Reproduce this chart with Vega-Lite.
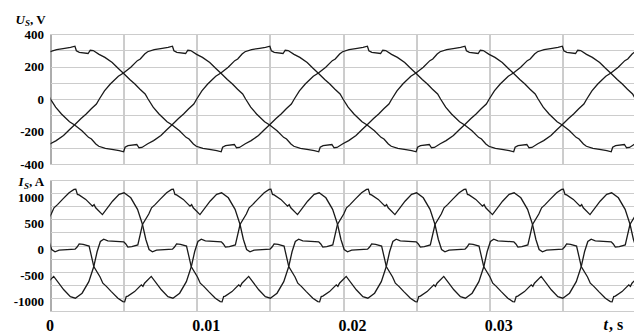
{
"$schema":"https://vega.github.io/schema/vega-lite/v6.json",
"padding":{"left":12.5,"top":12,"right":0,"bottom":0},
"bounds":"flush",
"spacing":16,
"config":{"view":{"stroke":"#808080","strokeWidth":1},"font":"Liberation Serif",
"axis":{"labelFont":"Liberation Serif","labelFontWeight":"bold","labelColor":"#000","labelFontSize":13,"titleFont":"Liberation Serif","titleFontWeight":"bold","titleColor":"#000","titleFontSize":13,"ticks":false,"domain":false,"gridWidth":1,"titleAngle":0,"titleAlign":"left","titleBaseline":"alphabetic","titlePadding":0,"labelFlush":false}},
"datasets":{
"u":[
{"t":-0.53,"v":246,"p":"a"},{"t":-0.23,"v":277,"p":"a"},{"t":-0.03,"v":291,"p":"a"},{"t":0.42,"v":304,"p":"a"},{"t":0.97,"v":312,"p":"a"},{"t":1.37,"v":318,"p":"a"},{"t":1.67,"v":325,"p":"a"},{"t":1.77,"v":297,"p":"a"},{"t":1.97,"v":287,"p":"a"},{"t":2.57,"v":280,"p":"a"},{"t":2.72,"v":300,"p":"a"},{"t":2.92,"v":298,"p":"a"},{"t":3.32,"v":275,"p":"a"},{"t":3.72,"v":256,"p":"a"},{"t":4.22,"v":225,"p":"a"},{"t":4.62,"v":189,"p":"a"},{"t":5.02,"v":155,"p":"a"},{"t":5.42,"v":120,"p":"a"},{"t":5.77,"v":92,"p":"a"},{"t":6.12,"v":60,"p":"a"},{"t":6.47,"v":31,"p":"a"},
{"t":6.67,"v":0,"p":"a"},{"t":7.02,"v":-50,"p":"a"},{"t":7.42,"v":-92,"p":"a"},{"t":7.97,"v":-140,"p":"a"},{"t":8.32,"v":-160,"p":"a"},{"t":8.82,"v":-195,"p":"a"},{"t":9.27,"v":-236,"p":"a"},{"t":9.47,"v":-246,"p":"a"},{"t":9.77,"v":-277,"p":"a"},{"t":9.97,"v":-291,"p":"a"},{"t":10.42,"v":-304,"p":"a"},{"t":10.97,"v":-312,"p":"a"},{"t":11.37,"v":-318,"p":"a"},{"t":11.67,"v":-325,"p":"a"},{"t":11.77,"v":-297,"p":"a"},{"t":11.97,"v":-287,"p":"a"},{"t":12.57,"v":-280,"p":"a"},{"t":12.72,"v":-300,"p":"a"},{"t":12.92,"v":-298,"p":"a"},{"t":13.32,"v":-275,"p":"a"},{"t":13.72,"v":-256,"p":"a"},{"t":14.22,"v":-225,"p":"a"},{"t":14.62,"v":-189,"p":"a"},{"t":15.02,"v":-155,"p":"a"},{"t":15.42,"v":-120,"p":"a"},{"t":15.77,"v":-92,"p":"a"},{"t":16.12,"v":-60,"p":"a"},{"t":16.47,"v":-31,"p":"a"},
{"t":16.67,"v":0,"p":"a"},{"t":17.02,"v":50,"p":"a"},{"t":17.42,"v":92,"p":"a"},{"t":17.97,"v":140,"p":"a"},{"t":18.32,"v":160,"p":"a"},{"t":18.82,"v":195,"p":"a"},{"t":19.27,"v":236,"p":"a"},{"t":19.47,"v":246,"p":"a"},{"t":19.77,"v":277,"p":"a"},{"t":19.97,"v":291,"p":"a"},{"t":20.42,"v":304,"p":"a"},{"t":20.97,"v":312,"p":"a"},{"t":21.37,"v":318,"p":"a"},{"t":21.67,"v":325,"p":"a"},{"t":21.77,"v":297,"p":"a"},{"t":21.97,"v":287,"p":"a"},{"t":22.57,"v":280,"p":"a"},{"t":22.72,"v":300,"p":"a"},{"t":22.92,"v":298,"p":"a"},{"t":23.32,"v":275,"p":"a"},{"t":23.72,"v":256,"p":"a"},{"t":24.22,"v":225,"p":"a"},{"t":24.62,"v":189,"p":"a"},{"t":25.02,"v":155,"p":"a"},{"t":25.42,"v":120,"p":"a"},{"t":25.77,"v":92,"p":"a"},{"t":26.12,"v":60,"p":"a"},{"t":26.47,"v":31,"p":"a"},
{"t":26.67,"v":0,"p":"a"},{"t":27.02,"v":-50,"p":"a"},{"t":27.42,"v":-92,"p":"a"},{"t":27.97,"v":-140,"p":"a"},{"t":28.32,"v":-160,"p":"a"},{"t":28.82,"v":-195,"p":"a"},{"t":29.27,"v":-236,"p":"a"},{"t":29.47,"v":-246,"p":"a"},{"t":29.77,"v":-277,"p":"a"},{"t":29.97,"v":-291,"p":"a"},{"t":30.42,"v":-304,"p":"a"},{"t":30.97,"v":-312,"p":"a"},{"t":31.37,"v":-318,"p":"a"},{"t":31.67,"v":-325,"p":"a"},{"t":31.77,"v":-297,"p":"a"},{"t":31.97,"v":-287,"p":"a"},{"t":32.57,"v":-280,"p":"a"},{"t":32.72,"v":-300,"p":"a"},{"t":32.92,"v":-298,"p":"a"},{"t":33.32,"v":-275,"p":"a"},{"t":33.72,"v":-256,"p":"a"},{"t":34.22,"v":-225,"p":"a"},{"t":34.62,"v":-189,"p":"a"},{"t":35.02,"v":-155,"p":"a"},{"t":35.42,"v":-120,"p":"a"},{"t":35.77,"v":-92,"p":"a"},{"t":36.12,"v":-60,"p":"a"},{"t":36.47,"v":-31,"p":"a"},
{"t":36.67,"v":0,"p":"a"},{"t":37.02,"v":50,"p":"a"},{"t":37.42,"v":92,"p":"a"},{"t":37.97,"v":140,"p":"a"},{"t":38.32,"v":160,"p":"a"},{"t":38.82,"v":195,"p":"a"},{"t":39.27,"v":236,"p":"a"},{"t":39.47,"v":246,"p":"a"},{"t":39.77,"v":277,"p":"a"},{"t":39.97,"v":291,"p":"a"},{"t":40.42,"v":304,"p":"a"},
{"t":-0.61,"v":-300,"p":"b"},{"t":-0.41,"v":-298,"p":"b"},{"t":-0.01,"v":-275,"p":"b"},{"t":0.39,"v":-256,"p":"b"},{"t":0.89,"v":-225,"p":"b"},{"t":1.29,"v":-189,"p":"b"},{"t":1.69,"v":-155,"p":"b"},{"t":2.09,"v":-120,"p":"b"},{"t":2.44,"v":-92,"p":"b"},{"t":2.79,"v":-60,"p":"b"},{"t":3.14,"v":-31,"p":"b"},
{"t":3.34,"v":0,"p":"b"},{"t":3.69,"v":50,"p":"b"},{"t":4.09,"v":92,"p":"b"},{"t":4.64,"v":140,"p":"b"},{"t":4.99,"v":160,"p":"b"},{"t":5.49,"v":195,"p":"b"},{"t":5.94,"v":236,"p":"b"},{"t":6.14,"v":246,"p":"b"},{"t":6.44,"v":277,"p":"b"},{"t":6.64,"v":291,"p":"b"},{"t":7.09,"v":304,"p":"b"},{"t":7.64,"v":312,"p":"b"},{"t":8.04,"v":318,"p":"b"},{"t":8.34,"v":325,"p":"b"},{"t":8.44,"v":297,"p":"b"},{"t":8.64,"v":287,"p":"b"},{"t":9.24,"v":280,"p":"b"},{"t":9.39,"v":300,"p":"b"},{"t":9.59,"v":298,"p":"b"},{"t":9.99,"v":275,"p":"b"},{"t":10.39,"v":256,"p":"b"},{"t":10.89,"v":225,"p":"b"},{"t":11.29,"v":189,"p":"b"},{"t":11.69,"v":155,"p":"b"},{"t":12.09,"v":120,"p":"b"},{"t":12.44,"v":92,"p":"b"},{"t":12.79,"v":60,"p":"b"},{"t":13.14,"v":31,"p":"b"},
{"t":13.34,"v":0,"p":"b"},{"t":13.69,"v":-50,"p":"b"},{"t":14.09,"v":-92,"p":"b"},{"t":14.64,"v":-140,"p":"b"},{"t":14.99,"v":-160,"p":"b"},{"t":15.49,"v":-195,"p":"b"},{"t":15.94,"v":-236,"p":"b"},{"t":16.14,"v":-246,"p":"b"},{"t":16.44,"v":-277,"p":"b"},{"t":16.64,"v":-291,"p":"b"},{"t":17.09,"v":-304,"p":"b"},{"t":17.64,"v":-312,"p":"b"},{"t":18.04,"v":-318,"p":"b"},{"t":18.34,"v":-325,"p":"b"},{"t":18.44,"v":-297,"p":"b"},{"t":18.64,"v":-287,"p":"b"},{"t":19.24,"v":-280,"p":"b"},{"t":19.39,"v":-300,"p":"b"},{"t":19.59,"v":-298,"p":"b"},{"t":19.99,"v":-275,"p":"b"},{"t":20.39,"v":-256,"p":"b"},{"t":20.89,"v":-225,"p":"b"},{"t":21.29,"v":-189,"p":"b"},{"t":21.69,"v":-155,"p":"b"},{"t":22.09,"v":-120,"p":"b"},{"t":22.44,"v":-92,"p":"b"},{"t":22.79,"v":-60,"p":"b"},{"t":23.14,"v":-31,"p":"b"},
{"t":23.34,"v":0,"p":"b"},{"t":23.69,"v":50,"p":"b"},{"t":24.09,"v":92,"p":"b"},{"t":24.64,"v":140,"p":"b"},{"t":24.99,"v":160,"p":"b"},{"t":25.49,"v":195,"p":"b"},{"t":25.94,"v":236,"p":"b"},{"t":26.14,"v":246,"p":"b"},{"t":26.44,"v":277,"p":"b"},{"t":26.64,"v":291,"p":"b"},{"t":27.09,"v":304,"p":"b"},{"t":27.64,"v":312,"p":"b"},{"t":28.04,"v":318,"p":"b"},{"t":28.34,"v":325,"p":"b"},{"t":28.44,"v":297,"p":"b"},{"t":28.64,"v":287,"p":"b"},{"t":29.24,"v":280,"p":"b"},{"t":29.39,"v":300,"p":"b"},{"t":29.59,"v":298,"p":"b"},{"t":29.99,"v":275,"p":"b"},{"t":30.39,"v":256,"p":"b"},{"t":30.89,"v":225,"p":"b"},{"t":31.29,"v":189,"p":"b"},{"t":31.69,"v":155,"p":"b"},{"t":32.09,"v":120,"p":"b"},{"t":32.44,"v":92,"p":"b"},{"t":32.79,"v":60,"p":"b"},{"t":33.14,"v":31,"p":"b"},
{"t":33.34,"v":0,"p":"b"},{"t":33.69,"v":-50,"p":"b"},{"t":34.09,"v":-92,"p":"b"},{"t":34.64,"v":-140,"p":"b"},{"t":34.99,"v":-160,"p":"b"},{"t":35.49,"v":-195,"p":"b"},{"t":35.94,"v":-236,"p":"b"},{"t":36.14,"v":-246,"p":"b"},{"t":36.44,"v":-277,"p":"b"},{"t":36.64,"v":-291,"p":"b"},{"t":37.09,"v":-304,"p":"b"},{"t":37.64,"v":-312,"p":"b"},{"t":38.04,"v":-318,"p":"b"},{"t":38.34,"v":-325,"p":"b"},{"t":38.44,"v":-297,"p":"b"},{"t":38.64,"v":-287,"p":"b"},{"t":39.24,"v":-280,"p":"b"},{"t":39.39,"v":-300,"p":"b"},{"t":39.59,"v":-298,"p":"b"},{"t":39.99,"v":-275,"p":"b"},{"t":40.39,"v":-256,"p":"b"},
{"t":-0.55,"v":60,"p":"c"},{"t":-0.2,"v":31,"p":"c"},
{"t":0,"v":0,"p":"c"},{"t":0.35,"v":-50,"p":"c"},{"t":0.75,"v":-92,"p":"c"},{"t":1.3,"v":-140,"p":"c"},{"t":1.65,"v":-160,"p":"c"},{"t":2.15,"v":-195,"p":"c"},{"t":2.6,"v":-236,"p":"c"},{"t":2.8,"v":-246,"p":"c"},{"t":3.1,"v":-277,"p":"c"},{"t":3.3,"v":-291,"p":"c"},{"t":3.75,"v":-304,"p":"c"},{"t":4.3,"v":-312,"p":"c"},{"t":4.7,"v":-318,"p":"c"},{"t":5.0,"v":-325,"p":"c"},{"t":5.1,"v":-297,"p":"c"},{"t":5.3,"v":-287,"p":"c"},{"t":5.9,"v":-280,"p":"c"},{"t":6.05,"v":-300,"p":"c"},{"t":6.25,"v":-298,"p":"c"},{"t":6.65,"v":-275,"p":"c"},{"t":7.05,"v":-256,"p":"c"},{"t":7.55,"v":-225,"p":"c"},{"t":7.95,"v":-189,"p":"c"},{"t":8.35,"v":-155,"p":"c"},{"t":8.75,"v":-120,"p":"c"},{"t":9.1,"v":-92,"p":"c"},{"t":9.45,"v":-60,"p":"c"},{"t":9.8,"v":-31,"p":"c"},
{"t":10,"v":0,"p":"c"},{"t":10.35,"v":50,"p":"c"},{"t":10.75,"v":92,"p":"c"},{"t":11.3,"v":140,"p":"c"},{"t":11.65,"v":160,"p":"c"},{"t":12.15,"v":195,"p":"c"},{"t":12.6,"v":236,"p":"c"},{"t":12.8,"v":246,"p":"c"},{"t":13.1,"v":277,"p":"c"},{"t":13.3,"v":291,"p":"c"},{"t":13.75,"v":304,"p":"c"},{"t":14.3,"v":312,"p":"c"},{"t":14.7,"v":318,"p":"c"},{"t":15.0,"v":325,"p":"c"},{"t":15.1,"v":297,"p":"c"},{"t":15.3,"v":287,"p":"c"},{"t":15.9,"v":280,"p":"c"},{"t":16.05,"v":300,"p":"c"},{"t":16.25,"v":298,"p":"c"},{"t":16.65,"v":275,"p":"c"},{"t":17.05,"v":256,"p":"c"},{"t":17.55,"v":225,"p":"c"},{"t":17.95,"v":189,"p":"c"},{"t":18.35,"v":155,"p":"c"},{"t":18.75,"v":120,"p":"c"},{"t":19.1,"v":92,"p":"c"},{"t":19.45,"v":60,"p":"c"},{"t":19.8,"v":31,"p":"c"},
{"t":20,"v":0,"p":"c"},{"t":20.35,"v":-50,"p":"c"},{"t":20.75,"v":-92,"p":"c"},{"t":21.3,"v":-140,"p":"c"},{"t":21.65,"v":-160,"p":"c"},{"t":22.15,"v":-195,"p":"c"},{"t":22.6,"v":-236,"p":"c"},{"t":22.8,"v":-246,"p":"c"},{"t":23.1,"v":-277,"p":"c"},{"t":23.3,"v":-291,"p":"c"},{"t":23.75,"v":-304,"p":"c"},{"t":24.3,"v":-312,"p":"c"},{"t":24.7,"v":-318,"p":"c"},{"t":25.0,"v":-325,"p":"c"},{"t":25.1,"v":-297,"p":"c"},{"t":25.3,"v":-287,"p":"c"},{"t":25.9,"v":-280,"p":"c"},{"t":26.05,"v":-300,"p":"c"},{"t":26.25,"v":-298,"p":"c"},{"t":26.65,"v":-275,"p":"c"},{"t":27.05,"v":-256,"p":"c"},{"t":27.55,"v":-225,"p":"c"},{"t":27.95,"v":-189,"p":"c"},{"t":28.35,"v":-155,"p":"c"},{"t":28.75,"v":-120,"p":"c"},{"t":29.1,"v":-92,"p":"c"},{"t":29.45,"v":-60,"p":"c"},{"t":29.8,"v":-31,"p":"c"},
{"t":30,"v":0,"p":"c"},{"t":30.35,"v":50,"p":"c"},{"t":30.75,"v":92,"p":"c"},{"t":31.3,"v":140,"p":"c"},{"t":31.65,"v":160,"p":"c"},{"t":32.15,"v":195,"p":"c"},{"t":32.6,"v":236,"p":"c"},{"t":32.8,"v":246,"p":"c"},{"t":33.1,"v":277,"p":"c"},{"t":33.3,"v":291,"p":"c"},{"t":33.75,"v":304,"p":"c"},{"t":34.3,"v":312,"p":"c"},{"t":34.7,"v":318,"p":"c"},{"t":35.0,"v":325,"p":"c"},{"t":35.1,"v":297,"p":"c"},{"t":35.3,"v":287,"p":"c"},{"t":35.9,"v":280,"p":"c"},{"t":36.05,"v":300,"p":"c"},{"t":36.25,"v":298,"p":"c"},{"t":36.65,"v":275,"p":"c"},{"t":37.05,"v":256,"p":"c"},{"t":37.55,"v":225,"p":"c"},{"t":37.95,"v":189,"p":"c"},{"t":38.35,"v":155,"p":"c"},{"t":38.75,"v":120,"p":"c"},{"t":39.1,"v":92,"p":"c"},{"t":39.45,"v":60,"p":"c"},{"t":39.8,"v":31,"p":"c"},
{"t":40,"v":0,"p":"c"},{"t":40.35,"v":-50,"p":"c"}
],
"i":[
{"t":-0.70,"v":10,"p":"a"},{"t":-0.38,"v":400,"p":"a"},{"t":0.05,"v":600,"p":"a"},{"t":0.24,"v":720,"p":"a"},{"t":0.48,"v":780,"p":"a"},{"t":0.82,"v":880,"p":"a"},{"t":1.27,"v":1005,"p":"a"},{"t":1.61,"v":1070,"p":"a"},{"t":1.73,"v":1075,"p":"a"},{"t":1.84,"v":975,"p":"a"},{"t":1.95,"v":965,"p":"a"},{"t":2.41,"v":880,"p":"a"},{"t":2.87,"v":750,"p":"a"},{"t":2.98,"v":780,"p":"a"},{"t":3.09,"v":720,"p":"a"},{"t":3.55,"v":590,"p":"a"},{"t":4.24,"v":845,"p":"a"},{"t":4.69,"v":975,"p":"a"},{"t":5.03,"v":1005,"p":"a"},{"t":5.49,"v":910,"p":"a"},{"t":5.95,"v":690,"p":"a"},{"t":6.29,"v":400,"p":"a"},{"t":6.52,"v":115,"p":"a"},{"t":6.74,"v":-76,"p":"a"},{"t":6.97,"v":-120,"p":"a"},{"t":7.25,"v":-90,"p":"a"},{"t":8.34,"v":-70,"p":"a"},{"t":8.48,"v":-30,"p":"a"},{"t":8.62,"v":30,"p":"a"},{"t":8.89,"v":20,"p":"a"},{"t":9.30,"v":-10,"p":"a"},
{"t":9.62,"v":-400,"p":"a"},{"t":10.05,"v":-600,"p":"a"},{"t":10.24,"v":-720,"p":"a"},{"t":10.48,"v":-780,"p":"a"},{"t":10.82,"v":-880,"p":"a"},{"t":11.27,"v":-1005,"p":"a"},{"t":11.61,"v":-1070,"p":"a"},{"t":11.73,"v":-1075,"p":"a"},{"t":11.84,"v":-975,"p":"a"},{"t":11.95,"v":-965,"p":"a"},{"t":12.41,"v":-880,"p":"a"},{"t":12.87,"v":-750,"p":"a"},{"t":12.98,"v":-780,"p":"a"},{"t":13.09,"v":-720,"p":"a"},{"t":13.55,"v":-590,"p":"a"},{"t":14.24,"v":-845,"p":"a"},{"t":14.69,"v":-975,"p":"a"},{"t":15.03,"v":-1005,"p":"a"},{"t":15.49,"v":-910,"p":"a"},{"t":15.95,"v":-690,"p":"a"},{"t":16.29,"v":-400,"p":"a"},{"t":16.52,"v":-115,"p":"a"},{"t":16.74,"v":76,"p":"a"},{"t":16.97,"v":120,"p":"a"},{"t":17.25,"v":90,"p":"a"},{"t":18.34,"v":70,"p":"a"},{"t":18.48,"v":30,"p":"a"},{"t":18.62,"v":-30,"p":"a"},{"t":18.89,"v":-20,"p":"a"},{"t":19.30,"v":10,"p":"a"},
{"t":19.62,"v":400,"p":"a"},{"t":20.05,"v":600,"p":"a"},{"t":20.24,"v":720,"p":"a"},{"t":20.48,"v":780,"p":"a"},{"t":20.82,"v":880,"p":"a"},{"t":21.27,"v":1005,"p":"a"},{"t":21.61,"v":1070,"p":"a"},{"t":21.73,"v":1075,"p":"a"},{"t":21.84,"v":975,"p":"a"},{"t":21.95,"v":965,"p":"a"},{"t":22.41,"v":880,"p":"a"},{"t":22.87,"v":750,"p":"a"},{"t":22.98,"v":780,"p":"a"},{"t":23.09,"v":720,"p":"a"},{"t":23.55,"v":590,"p":"a"},{"t":24.24,"v":845,"p":"a"},{"t":24.69,"v":975,"p":"a"},{"t":25.03,"v":1005,"p":"a"},{"t":25.49,"v":910,"p":"a"},{"t":25.95,"v":690,"p":"a"},{"t":26.29,"v":400,"p":"a"},{"t":26.52,"v":115,"p":"a"},{"t":26.74,"v":-76,"p":"a"},{"t":26.97,"v":-120,"p":"a"},{"t":27.25,"v":-90,"p":"a"},{"t":28.34,"v":-70,"p":"a"},{"t":28.48,"v":-30,"p":"a"},{"t":28.62,"v":30,"p":"a"},{"t":28.89,"v":20,"p":"a"},{"t":29.30,"v":-10,"p":"a"},
{"t":29.62,"v":-400,"p":"a"},{"t":30.05,"v":-600,"p":"a"},{"t":30.24,"v":-720,"p":"a"},{"t":30.48,"v":-780,"p":"a"},{"t":30.82,"v":-880,"p":"a"},{"t":31.27,"v":-1005,"p":"a"},{"t":31.61,"v":-1070,"p":"a"},{"t":31.73,"v":-1075,"p":"a"},{"t":31.84,"v":-975,"p":"a"},{"t":31.95,"v":-965,"p":"a"},{"t":32.41,"v":-880,"p":"a"},{"t":32.87,"v":-750,"p":"a"},{"t":32.98,"v":-780,"p":"a"},{"t":33.09,"v":-720,"p":"a"},{"t":33.55,"v":-590,"p":"a"},{"t":34.24,"v":-845,"p":"a"},{"t":34.69,"v":-975,"p":"a"},{"t":35.03,"v":-1005,"p":"a"},{"t":35.49,"v":-910,"p":"a"},{"t":35.95,"v":-690,"p":"a"},{"t":36.29,"v":-400,"p":"a"},{"t":36.52,"v":-115,"p":"a"},{"t":36.74,"v":76,"p":"a"},{"t":36.97,"v":120,"p":"a"},{"t":37.25,"v":90,"p":"a"},{"t":38.34,"v":70,"p":"a"},{"t":38.48,"v":30,"p":"a"},{"t":38.62,"v":-30,"p":"a"},{"t":38.89,"v":-20,"p":"a"},{"t":39.30,"v":10,"p":"a"},
{"t":39.62,"v":400,"p":"a"},{"t":40.05,"v":600,"p":"a"},
{"t":-0.24,"v":-720,"p":"b"},{"t":0.22,"v":-590,"p":"b"},{"t":0.91,"v":-845,"p":"b"},{"t":1.36,"v":-975,"p":"b"},{"t":1.70,"v":-1005,"p":"b"},{"t":2.16,"v":-910,"p":"b"},{"t":2.62,"v":-690,"p":"b"},{"t":2.96,"v":-400,"p":"b"},{"t":3.19,"v":-115,"p":"b"},{"t":3.41,"v":76,"p":"b"},{"t":3.64,"v":120,"p":"b"},{"t":3.92,"v":90,"p":"b"},{"t":5.01,"v":70,"p":"b"},{"t":5.15,"v":30,"p":"b"},{"t":5.29,"v":-30,"p":"b"},{"t":5.56,"v":-20,"p":"b"},{"t":5.97,"v":10,"p":"b"},
{"t":6.29,"v":400,"p":"b"},{"t":6.72,"v":600,"p":"b"},{"t":6.91,"v":720,"p":"b"},{"t":7.15,"v":780,"p":"b"},{"t":7.49,"v":880,"p":"b"},{"t":7.94,"v":1005,"p":"b"},{"t":8.28,"v":1070,"p":"b"},{"t":8.40,"v":1075,"p":"b"},{"t":8.51,"v":975,"p":"b"},{"t":8.62,"v":965,"p":"b"},{"t":9.08,"v":880,"p":"b"},{"t":9.54,"v":750,"p":"b"},{"t":9.65,"v":780,"p":"b"},{"t":9.76,"v":720,"p":"b"},{"t":10.22,"v":590,"p":"b"},{"t":10.91,"v":845,"p":"b"},{"t":11.36,"v":975,"p":"b"},{"t":11.70,"v":1005,"p":"b"},{"t":12.16,"v":910,"p":"b"},{"t":12.62,"v":690,"p":"b"},{"t":12.96,"v":400,"p":"b"},{"t":13.19,"v":115,"p":"b"},{"t":13.41,"v":-76,"p":"b"},{"t":13.64,"v":-120,"p":"b"},{"t":13.92,"v":-90,"p":"b"},{"t":15.01,"v":-70,"p":"b"},{"t":15.15,"v":-30,"p":"b"},{"t":15.29,"v":30,"p":"b"},{"t":15.56,"v":20,"p":"b"},{"t":15.97,"v":-10,"p":"b"},
{"t":16.29,"v":-400,"p":"b"},{"t":16.72,"v":-600,"p":"b"},{"t":16.91,"v":-720,"p":"b"},{"t":17.15,"v":-780,"p":"b"},{"t":17.49,"v":-880,"p":"b"},{"t":17.94,"v":-1005,"p":"b"},{"t":18.28,"v":-1070,"p":"b"},{"t":18.40,"v":-1075,"p":"b"},{"t":18.51,"v":-975,"p":"b"},{"t":18.62,"v":-965,"p":"b"},{"t":19.08,"v":-880,"p":"b"},{"t":19.54,"v":-750,"p":"b"},{"t":19.65,"v":-780,"p":"b"},{"t":19.76,"v":-720,"p":"b"},{"t":20.22,"v":-590,"p":"b"},{"t":20.91,"v":-845,"p":"b"},{"t":21.36,"v":-975,"p":"b"},{"t":21.70,"v":-1005,"p":"b"},{"t":22.16,"v":-910,"p":"b"},{"t":22.62,"v":-690,"p":"b"},{"t":22.96,"v":-400,"p":"b"},{"t":23.19,"v":-115,"p":"b"},{"t":23.41,"v":76,"p":"b"},{"t":23.64,"v":120,"p":"b"},{"t":23.92,"v":90,"p":"b"},{"t":25.01,"v":70,"p":"b"},{"t":25.15,"v":30,"p":"b"},{"t":25.29,"v":-30,"p":"b"},{"t":25.56,"v":-20,"p":"b"},{"t":25.97,"v":10,"p":"b"},
{"t":26.29,"v":400,"p":"b"},{"t":26.72,"v":600,"p":"b"},{"t":26.91,"v":720,"p":"b"},{"t":27.15,"v":780,"p":"b"},{"t":27.49,"v":880,"p":"b"},{"t":27.94,"v":1005,"p":"b"},{"t":28.28,"v":1070,"p":"b"},{"t":28.40,"v":1075,"p":"b"},{"t":28.51,"v":975,"p":"b"},{"t":28.62,"v":965,"p":"b"},{"t":29.08,"v":880,"p":"b"},{"t":29.54,"v":750,"p":"b"},{"t":29.65,"v":780,"p":"b"},{"t":29.76,"v":720,"p":"b"},{"t":30.22,"v":590,"p":"b"},{"t":30.91,"v":845,"p":"b"},{"t":31.36,"v":975,"p":"b"},{"t":31.70,"v":1005,"p":"b"},{"t":32.16,"v":910,"p":"b"},{"t":32.62,"v":690,"p":"b"},{"t":32.96,"v":400,"p":"b"},{"t":33.19,"v":115,"p":"b"},{"t":33.41,"v":-76,"p":"b"},{"t":33.64,"v":-120,"p":"b"},{"t":33.92,"v":-90,"p":"b"},{"t":35.01,"v":-70,"p":"b"},{"t":35.15,"v":-30,"p":"b"},{"t":35.29,"v":30,"p":"b"},{"t":35.56,"v":20,"p":"b"},{"t":35.97,"v":-10,"p":"b"},
{"t":36.29,"v":-400,"p":"b"},{"t":36.72,"v":-600,"p":"b"},{"t":36.91,"v":-720,"p":"b"},{"t":37.15,"v":-780,"p":"b"},{"t":37.49,"v":-880,"p":"b"},{"t":37.94,"v":-1005,"p":"b"},{"t":38.28,"v":-1070,"p":"b"},{"t":38.40,"v":-1075,"p":"b"},{"t":38.51,"v":-975,"p":"b"},{"t":38.62,"v":-965,"p":"b"},{"t":39.08,"v":-880,"p":"b"},{"t":39.54,"v":-750,"p":"b"},{"t":39.65,"v":-780,"p":"b"},{"t":39.76,"v":-720,"p":"b"},{"t":40.22,"v":-590,"p":"b"},
{"t":-0.37,"v":400,"p":"c"},{"t":-0.14,"v":115,"p":"c"},{"t":0.08,"v":-76,"p":"c"},{"t":0.31,"v":-120,"p":"c"},{"t":0.59,"v":-90,"p":"c"},{"t":1.68,"v":-70,"p":"c"},{"t":1.82,"v":-30,"p":"c"},{"t":1.96,"v":30,"p":"c"},{"t":2.23,"v":20,"p":"c"},{"t":2.64,"v":-10,"p":"c"},
{"t":2.96,"v":-400,"p":"c"},{"t":3.39,"v":-600,"p":"c"},{"t":3.58,"v":-720,"p":"c"},{"t":3.82,"v":-780,"p":"c"},{"t":4.16,"v":-880,"p":"c"},{"t":4.61,"v":-1005,"p":"c"},{"t":4.95,"v":-1070,"p":"c"},{"t":5.07,"v":-1075,"p":"c"},{"t":5.18,"v":-975,"p":"c"},{"t":5.29,"v":-965,"p":"c"},{"t":5.75,"v":-880,"p":"c"},{"t":6.21,"v":-750,"p":"c"},{"t":6.32,"v":-780,"p":"c"},{"t":6.43,"v":-720,"p":"c"},{"t":6.89,"v":-590,"p":"c"},{"t":7.58,"v":-845,"p":"c"},{"t":8.03,"v":-975,"p":"c"},{"t":8.37,"v":-1005,"p":"c"},{"t":8.83,"v":-910,"p":"c"},{"t":9.29,"v":-690,"p":"c"},{"t":9.63,"v":-400,"p":"c"},{"t":9.86,"v":-115,"p":"c"},{"t":10.08,"v":76,"p":"c"},{"t":10.31,"v":120,"p":"c"},{"t":10.59,"v":90,"p":"c"},{"t":11.68,"v":70,"p":"c"},{"t":11.82,"v":30,"p":"c"},{"t":11.96,"v":-30,"p":"c"},{"t":12.23,"v":-20,"p":"c"},{"t":12.64,"v":10,"p":"c"},
{"t":12.96,"v":400,"p":"c"},{"t":13.39,"v":600,"p":"c"},{"t":13.58,"v":720,"p":"c"},{"t":13.82,"v":780,"p":"c"},{"t":14.16,"v":880,"p":"c"},{"t":14.61,"v":1005,"p":"c"},{"t":14.95,"v":1070,"p":"c"},{"t":15.07,"v":1075,"p":"c"},{"t":15.18,"v":975,"p":"c"},{"t":15.29,"v":965,"p":"c"},{"t":15.75,"v":880,"p":"c"},{"t":16.21,"v":750,"p":"c"},{"t":16.32,"v":780,"p":"c"},{"t":16.43,"v":720,"p":"c"},{"t":16.89,"v":590,"p":"c"},{"t":17.58,"v":845,"p":"c"},{"t":18.03,"v":975,"p":"c"},{"t":18.37,"v":1005,"p":"c"},{"t":18.83,"v":910,"p":"c"},{"t":19.29,"v":690,"p":"c"},{"t":19.63,"v":400,"p":"c"},{"t":19.86,"v":115,"p":"c"},{"t":20.08,"v":-76,"p":"c"},{"t":20.31,"v":-120,"p":"c"},{"t":20.59,"v":-90,"p":"c"},{"t":21.68,"v":-70,"p":"c"},{"t":21.82,"v":-30,"p":"c"},{"t":21.96,"v":30,"p":"c"},{"t":22.23,"v":20,"p":"c"},{"t":22.64,"v":-10,"p":"c"},
{"t":22.96,"v":-400,"p":"c"},{"t":23.39,"v":-600,"p":"c"},{"t":23.58,"v":-720,"p":"c"},{"t":23.82,"v":-780,"p":"c"},{"t":24.16,"v":-880,"p":"c"},{"t":24.61,"v":-1005,"p":"c"},{"t":24.95,"v":-1070,"p":"c"},{"t":25.07,"v":-1075,"p":"c"},{"t":25.18,"v":-975,"p":"c"},{"t":25.29,"v":-965,"p":"c"},{"t":25.75,"v":-880,"p":"c"},{"t":26.21,"v":-750,"p":"c"},{"t":26.32,"v":-780,"p":"c"},{"t":26.43,"v":-720,"p":"c"},{"t":26.89,"v":-590,"p":"c"},{"t":27.58,"v":-845,"p":"c"},{"t":28.03,"v":-975,"p":"c"},{"t":28.37,"v":-1005,"p":"c"},{"t":28.83,"v":-910,"p":"c"},{"t":29.29,"v":-690,"p":"c"},{"t":29.63,"v":-400,"p":"c"},{"t":29.86,"v":-115,"p":"c"},{"t":30.08,"v":76,"p":"c"},{"t":30.31,"v":120,"p":"c"},{"t":30.59,"v":90,"p":"c"},{"t":31.68,"v":70,"p":"c"},{"t":31.82,"v":30,"p":"c"},{"t":31.96,"v":-30,"p":"c"},{"t":32.23,"v":-20,"p":"c"},{"t":32.64,"v":10,"p":"c"},
{"t":32.96,"v":400,"p":"c"},{"t":33.39,"v":600,"p":"c"},{"t":33.58,"v":720,"p":"c"},{"t":33.82,"v":780,"p":"c"},{"t":34.16,"v":880,"p":"c"},{"t":34.61,"v":1005,"p":"c"},{"t":34.95,"v":1070,"p":"c"},{"t":35.07,"v":1075,"p":"c"},{"t":35.18,"v":975,"p":"c"},{"t":35.29,"v":965,"p":"c"},{"t":35.75,"v":880,"p":"c"},{"t":36.21,"v":750,"p":"c"},{"t":36.32,"v":780,"p":"c"},{"t":36.43,"v":720,"p":"c"},{"t":36.89,"v":590,"p":"c"},{"t":37.58,"v":845,"p":"c"},{"t":38.03,"v":975,"p":"c"},{"t":38.37,"v":1005,"p":"c"},{"t":38.83,"v":910,"p":"c"},{"t":39.29,"v":690,"p":"c"},{"t":39.63,"v":400,"p":"c"},{"t":39.86,"v":115,"p":"c"},{"t":40.08,"v":-76,"p":"c"}
]},
"vconcat":[
{"width":585,"height":130,
"layer":[
{"data":{"name":"u"},"mark":{"type":"line","color":"#1a1a1a","strokeWidth":1.3,"clip":true},
"encoding":{
"x":{"field":"t","type":"quantitative","scale":{"domain":[0,40],"nice":false,"zero":false},
"axis":{"orient":"bottom","values":[0,5,10,15,20,25,30,35,40],"labels":false,"grid":true,"gridColor":"#9a9a9a","title":", V","titleX":-21,"titleY":-141}},
"y":{"field":"v","type":"quantitative","scale":{"domain":[-400,400],"nice":false,"zero":false},
"axis":{"orient":"left","values":[-400,-300,-200,-100,0,100,200,300,400],"labelExpr":"datum.value % 200 == 0 ? '' + datum.value : ''","labelPadding":7,"grid":true,"gridColor":"#cccccc","title":"U","titleFontStyle":"italic","titleX":-35.5,"titleY":-11}},
"detail":{"field":"p"}}},
{"data":{"values":[{"t":0,"v":0}]},"mark":{"type":"point","opacity":0},
"encoding":{
"x":{"field":"t","type":"quantitative","scale":{"domain":[0,40],"nice":false,"zero":false},"axis":null},
"y":{"field":"v","type":"quantitative","scale":{"domain":[-400,400],"nice":false,"zero":false},
"axis":{"orient":"right","labels":false,"grid":false,"title":"S","titleFontStyle":"italic","titleFontSize":9,"titleX":-611,"titleY":-8.5}}}}
],
"resolve":{"axis":{"x":"independent","y":"independent"}}},
{"width":585,"height":131,
"layer":[
{"data":{"name":"i"},"mark":{"type":"line","color":"#1a1a1a","strokeWidth":1.3,"clip":true},
"encoding":{
"x":{"field":"t","type":"quantitative","scale":{"domain":[0,40],"nice":false,"zero":false},
"axis":{"orient":"bottom","values":[0,5,10,15,20,25,30,35,40],"labelExpr":"datum.value == 0 ? '0' : (datum.value % 10 == 0 && datum.value < 40 ? '0.0' + datum.value/10 : '')","labelFontSize":16,"labelPadding":6,"labelAlign":"left","labelOffset":-5,"grid":true,"gridColor":"#9a9a9a","title":"t","titleFontStyle":"italic","titleFontSize":16,"titleX":552.5,"titleY":18}},
"y":{"field":"v","type":"quantitative","scale":{"domain":[-1250,1250],"nice":false,"zero":false},
"axis":{"orient":"left","values":[-1250,-1000,-750,-500,-250,0,250,500,750,1000,1250],"labelExpr":"datum.value % 500 == 0 ? '' + datum.value : ''","labelPadding":7,"labelOffset":4,"grid":true,"gridColor":"#cccccc","title":"I","titleFontStyle":"italic","titleX":-32.5,"titleY":5.5}},
"detail":{"field":"p"}}},
{"data":{"values":[{"t":0,"v":0}]},"mark":{"type":"point","opacity":0},
"encoding":{
"x":{"field":"t","type":"quantitative","scale":{"domain":[0,40],"nice":false,"zero":false},
"axis":{"orient":"top","labels":false,"grid":false,"title":", s","titleFontSize":16,"titleX":558,"titleY":149}},
"y":{"field":"v","type":"quantitative","scale":{"domain":[-1250,1250],"nice":false,"zero":false},
"axis":{"orient":"right","labels":false,"grid":false,"title":"S","titleFontStyle":"italic","titleFontSize":9,"titleX":-612,"titleY":8.5}}}},
{"data":{"values":[{"t":0,"v":0}]},"mark":{"type":"point","opacity":0},
"encoding":{
"x":{"field":"t","type":"quantitative","scale":{"domain":[0,40],"nice":false,"zero":false},"axis":null},
"y":{"field":"v","type":"quantitative","scale":{"domain":[-1250,1250],"nice":false,"zero":false},
"axis":{"orient":"left","labels":false,"grid":false,"title":", A","titleX":-22,"titleY":5.5}}}}
],
"resolve":{"axis":{"x":"independent","y":"independent"}}}
]
}
